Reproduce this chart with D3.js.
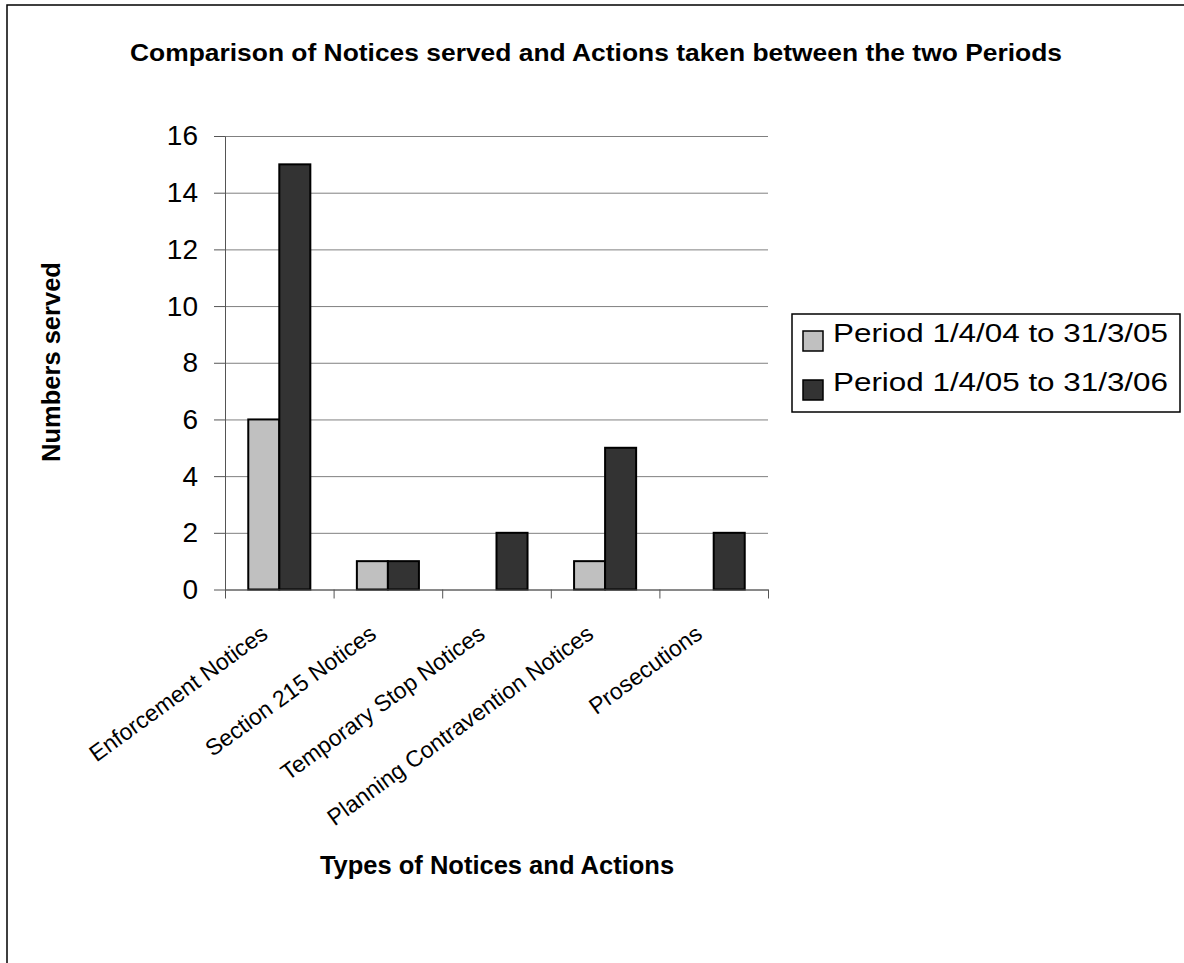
<!DOCTYPE html>
<meta charset="utf-8">
<style>
body { margin: 0; background: #fff; }
svg { font-family: Arial, "Liberation Sans", sans-serif; }
.grid line { stroke: #808080; stroke-width: 1px; }
.grid path { display: none; }
.axisy path, .axisy line, .axisx path, .axisx line { stroke: #555; }
.axisy text { font-size: 28px; fill: #000; }
</style>
<body>
<script src="https://cdnjs.cloudflare.com/ajax/libs/d3/7.8.5/d3.min.js"></script>
<script>

// data
var categories = ["Enforcement Notices", "Section 215 Notices", "Temporary Stop Notices",
                  "Planning Contravention Notices", "Prosecutions"];
var seriesNames = ["Period 1/4/04 to 31/3/05", "Period 1/4/05 to 31/3/06"];
var period0405 = [6, 1, 0, 1, 0];
var period0506 = [15, 1, 2, 5, 2];
var yTicks = [0, 2, 4, 6, 8, 10, 12, 14, 16];
var colors = ["#c0c0c0", "#333333"];

var W = 1184, H = 963;
var plot = {left: 225, right: 768, top: 136, bottom: 589.5};

var svg = d3.select("body").append("svg")
    .attr("width", W)
    .attr("height", H);

// outer border (right and bottom edges fall outside the picture)
svg.append("rect")
    .attr("x", 7).attr("y", 5)
    .attr("width", W + 10).attr("height", H + 10)
    .attr("fill", "#fff")
    .attr("stroke", "#000")
    .attr("stroke-width", 1.5);

var x = d3.scaleBand()
    .domain(categories)
    .range([plot.left, plot.right]);

// two bars per category, gap width 150%
var x1 = d3.scaleBand()
    .domain([0, 1])
    .range([0, x.bandwidth()])
    .paddingOuter(0.75);

var y = d3.scaleLinear()
    .domain([0, 16])
    .range([plot.bottom, plot.top]);

// gridlines
svg.append("g")
    .attr("class", "grid")
    .attr("transform", "translate(" + plot.left + ",0)")
    .call(d3.axisRight(y).tickValues(yTicks).tickSize(plot.right - plot.left).tickFormat(""));

// bars
var bars = [];
categories.forEach(function(c, i) {
  bars.push({cat: c, s: 0, v: period0405[i]});
  bars.push({cat: c, s: 1, v: period0506[i]});
});

svg.append("g")
    .selectAll("rect")
    .data(bars.filter(function(d) { return d.v > 0; }))
    .enter().append("rect")
    .attr("x", function(d) { return x(d.cat) + x1(d.s); })
    .attr("y", function(d) { return y(d.v); })
    .attr("width", x1.bandwidth())
    .attr("height", function(d) { return y(0) - y(d.v); })
    .attr("fill", function(d) { return colors[d.s]; })
    .attr("stroke", "#000")
    .attr("stroke-width", 2);

// y axis
svg.append("g")
    .attr("class", "axisy")
    .attr("transform", "translate(" + plot.left + ",0)")
    .call(d3.axisLeft(y).tickValues(yTicks).tickSize(11).tickPadding(16).tickSizeOuter(0));

// x axis: ticks sit on the category boundaries
var bounds = categories.map(function(c) { return x(c); }).concat([plot.right]);
var xb = d3.scaleLinear().domain([plot.left, plot.right]).range([plot.left, plot.right]);
svg.append("g")
    .attr("class", "axisx")
    .attr("transform", "translate(0," + plot.bottom + ")")
    .call(d3.axisBottom(xb).tickValues(bounds).tickSize(9).tickFormat("").tickSizeOuter(0));

svg.append("g")
    .selectAll("text")
    .data(categories)
    .enter().append("text")
    .attr("transform", function(d) {
      return "translate(" + (x(d) + x.bandwidth() / 2 - 10) + ",637) rotate(-36)";
    })
    .attr("text-anchor", "end")
    .style("font-size", "23px")
    .text(function(d) { return d; });

// titles
svg.append("text")
    .attr("x", 596).attr("y", 61)
    .attr("text-anchor", "middle")
    .attr("textLength", 932)
    .attr("lengthAdjust", "spacingAndGlyphs")
    .style("font-size", "24px")
    .style("font-weight", "bold")
    .text("Comparison of Notices served and Actions taken between the two Periods");

svg.append("text")
    .attr("transform", "translate(60,362) rotate(-90)")
    .attr("text-anchor", "middle")
    .style("font-size", "25.5px")
    .style("font-weight", "bold")
    .text("Numbers served");

svg.append("text")
    .attr("x", 497).attr("y", 874)
    .attr("text-anchor", "middle")
    .style("font-size", "25.5px")
    .style("font-weight", "bold")
    .text("Types of Notices and Actions");

// legend
var legend = svg.append("g");
legend.append("rect")
    .attr("x", 792).attr("y", 314)
    .attr("width", 388).attr("height", 98)
    .attr("fill", "#fff")
    .attr("stroke", "#000")
    .attr("stroke-width", 1.5);

var items = legend.selectAll(".item")
    .data(seriesNames)
    .enter().append("g")
    .attr("transform", function(d, i) { return "translate(803," + (342 + i * 49) + ")"; });

items.append("rect")
    .attr("x", 0).attr("y", -11)
    .attr("width", 20).attr("height", 20)
    .attr("fill", function(d, i) { return colors[i]; })
    .attr("stroke", "#000")
    .attr("stroke-width", 1.5);

items.append("text")
    .attr("x", 30).attr("y", 0)
    .attr("textLength", 335)
    .attr("lengthAdjust", "spacingAndGlyphs")
    .style("font-size", "26px")
    .text(function(d) { return d; });

</script>
</body>
